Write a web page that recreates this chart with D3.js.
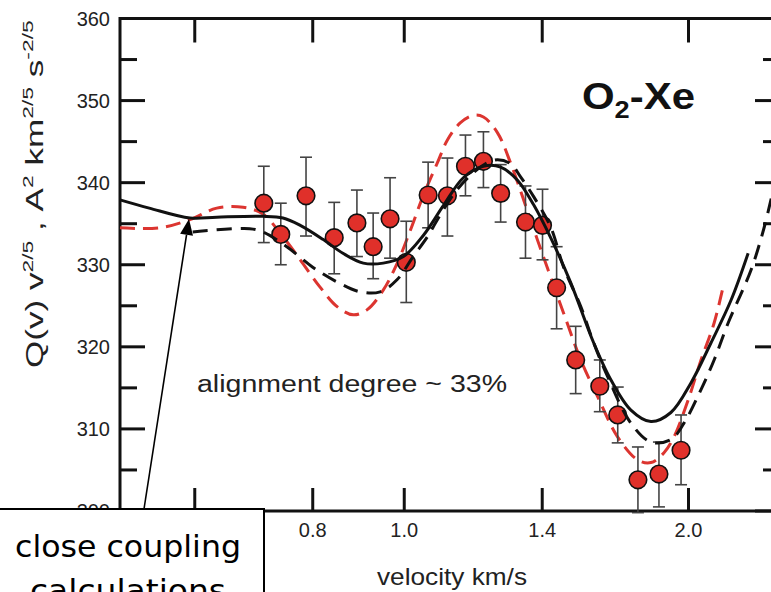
<!DOCTYPE html>
<html><head><meta charset="utf-8">
<script src="https://cdn.jsdelivr.net/npm/d3@7"></script>
<style>html,body{margin:0;padding:0;background:#fff;overflow:hidden}svg{display:block}</style>
</head><body>
<svg id="chart" width="771" height="592"></svg>
<script>
// ---------- data ----------
const velocity = [0.710,0.740,0.787,0.843,0.891,0.927,0.966,1.005,1.060,1.111,1.161,1.213,1.265,1.344,1.401,1.450,1.519,1.611,1.683,1.768,1.861,1.964];
const measured = [337.5,333.7,338.4,333.3,335.1,332.2,335.6,330.3,338.5,338.4,342.0,342.6,338.7,335.2,334.8,327.2,318.4,315.2,311.7,303.8,304.5,307.4];
const errUpper = [342.0,337.5,343.1,337.6,339.1,336.3,340.6,335.3,342.5,343.0,345.8,346.2,342.2,339.6,339.2,332.2,322.5,318.4,315.1,307.8,308.4,311.7];
const errLower = [332.7,330.0,333.5,328.9,331.0,328.3,330.8,325.4,334.5,333.5,338.4,339.4,335.2,330.8,330.6,322.2,314.3,312.1,308.3,299.8,300.5,303.2];

const solidV = [0.500,0.537,0.593,0.633,0.708,0.744,0.776,0.820,0.861,0.905,0.950,0.998,1.048,1.100,1.155,1.213,1.265,1.318,1.371,1.429,1.501,1.587,1.655,1.738,1.825,1.916,2.012,2.113,2.219,2.313];
const solidQ = [337.9,336.9,335.7,335.8,335.9,335.7,334.8,333.1,331.4,330.2,330.2,331.0,333.6,337.2,340.6,342.0,341.9,340.3,337.3,333.3,327.8,320.5,316.0,312.3,310.9,312.0,315.6,320.5,325.7,331.4];

const dashV = [0.597,0.686,0.708,0.751,0.800,0.849,0.898,0.943,0.983,1.022,1.058,1.092,1.133,1.175,1.219,1.255,1.296,1.328,1.371,1.429,1.475,1.538,1.587,1.643,1.738,1.825,1.916,1.978,2.062,2.129,2.203,2.330,2.406,2.453];
const dashQ = [334.0,334.4,334.0,332.2,329.7,327.9,326.7,326.7,328.2,331.0,333.4,336.1,338.9,340.9,342.3,342.8,342.3,340.7,338.3,334.6,329.7,324.9,320.5,316.3,310.7,308.4,308.7,310.7,314.8,318.4,322.9,329.4,334.6,338.6];

const redV = [0.500,0.551,0.593,0.633,0.675,0.708,0.744,0.776,0.814,0.849,0.883,0.913,0.950,0.983,1.015,1.048,1.084,1.111,1.147,1.184,1.213,1.255,1.296,1.338,1.384,1.429,1.475,1.538,1.603,1.683,1.768,1.825,1.884,1.930,1.998,2.062,2.129,2.181];
const redQ = [334.5,334.5,335.5,336.9,337.0,336.2,333.4,330.6,327.3,324.9,323.9,324.5,326.9,330.2,334.2,338.5,342.4,345.2,347.3,348.2,348.0,346.1,342.4,337.9,333.0,328.5,324.1,318.4,313.9,309.0,306.2,305.9,307.1,309.0,313.5,318.4,322.9,327.8];

const xTicks = [0.6, 0.8, 1.0, 1.4, 2.0];
const xLabelValues = [0.8, 1.0, 1.4, 2.0];   // 0.6 label is hidden under the callout box
const xTickLabels = ["0.8", "1.0", "1.4", "2.0"];
const yTicks = [300, 310, 320, 330, 340, 350, 360];
const yMinorTicks = [305, 315, 325, 335, 345, 355];

// ---------- layout ----------
const svg = d3.select("#chart");
const L = 120, R = 780, T = 18.5, B = 511;
const x = d3.scaleLog().domain([0.5, 2.5]).range([L, R]);
const y = d3.scaleLinear().domain([300, 360]).range([B, T]);
const font = "'Liberation Sans', Arial, Helvetica, sans-serif";

// frame ticks
const ax = svg.append("g").attr("stroke", "#111").attr("stroke-width", 3).attr("stroke-linecap", "butt");
yTicks.forEach(v => {
  ax.append("line").attr("x1", L).attr("x2", L + 25).attr("y1", y(v)).attr("y2", y(v));
  ax.append("line").attr("x1", R).attr("x2", R - 25).attr("y1", y(v)).attr("y2", y(v));
});
yMinorTicks.forEach(v => {
  ax.append("line").attr("x1", L).attr("x2", L + 17).attr("y1", y(v)).attr("y2", y(v));
  ax.append("line").attr("x1", R).attr("x2", R - 17).attr("y1", y(v)).attr("y2", y(v));
});
xTicks.forEach(v => {
  ax.append("line").attr("x1", x(v)).attr("x2", x(v)).attr("y1", T).attr("y2", T + 24);
  ax.append("line").attr("x1", x(v)).attr("x2", x(v)).attr("y1", B).attr("y2", B - 23);
});
ax.append("rect").attr("x", L).attr("y", T).attr("width", R - L).attr("height", B - T).attr("fill", "none");

// tick labels
svg.append("g").selectAll("text").data(yTicks).join("text")
  .attr("x", 110).attr("y", d => y(d)).attr("dy", "0.36em")
  .attr("text-anchor", "end").attr("font-family", font).attr("font-size", 20).attr("fill", "#222")
  .text(d => d);
svg.append("g").selectAll("text").data(xLabelValues).join("text")
  .attr("x", d => x(d)).attr("y", 537)
  .attr("text-anchor", "middle").attr("font-family", font).attr("font-size", 20).attr("fill", "#222")
  .text((d, i) => xTickLabels[i]);

// axis titles
svg.append("text").attr("x", 452).attr("y", 585).attr("text-anchor", "middle")
  .attr("font-family", font).attr("font-size", 24).attr("fill", "#222")
  .attr("textLength", 150).attr("lengthAdjust", "spacingAndGlyphs")
  .text("velocity km/s");

const yt = svg.append("g").attr("transform", "translate(43,368) rotate(-90)");
const ytText = yt.append("text").attr("font-family", font).attr("font-size", 23).attr("fill", "#222");
const parts = [["Q(v) v", 0, 23], ["2/5", -10, 15], [" , ", 10, 23], ["A", 0, 23], ["2", -10, 15], [" km", 10, 23], ["2/5", -10, 15], [" s", 10, 23], ["-2/5", -10, 15]];
parts.forEach(p => ytText.append("tspan").attr("dy", p[1]).attr("font-size", p[2]).text(p[0]));
const ytLen = ytText.node().getComputedTextLength();
ytText.attr("transform", `scale(${346 / ytLen},1)`);

// annotation text
svg.append("text").attr("x", 197).attr("y", 392).attr("font-family", font).attr("font-size", 23).attr("fill", "#222")
  .attr("textLength", 310).attr("lengthAdjust", "spacingAndGlyphs")
  .text("alignment degree ~ 33%");

const ot = svg.append("text").attr("font-family", font).attr("font-weight", "bold").attr("font-size", 37).attr("fill", "#111");
ot.append("tspan").text("O");
ot.append("tspan").attr("font-size", 24).attr("dy", 9).text("2");
ot.append("tspan").attr("dy", -9).text("-Xe");
const otLen = ot.node().getComputedTextLength();
ot.attr("transform", `translate(582,109) scale(${113 / otLen},1)`);

// ---------- marks ----------
const line = d3.line().x(d => x(d[0])).y(d => y(d[1])).curve(d3.curveCatmullRom.alpha(0.5));

// red dashed
svg.append("path").datum(redV.map((v, i) => [v, redQ[i]])).attr("d", line)
  .attr("fill", "none").attr("stroke", "#dc3530").attr("stroke-width", 3).attr("stroke-dasharray", "15,8");

// error bars
const eb = svg.append("g").attr("stroke", "#444").attr("stroke-width", 1.6);
velocity.forEach((v, i) => {
  const cx = x(v);
  eb.append("line").attr("x1", cx).attr("x2", cx).attr("y1", y(errUpper[i])).attr("y2", y(errLower[i]));
  eb.append("line").attr("x1", cx - 6).attr("x2", cx + 6).attr("y1", y(errUpper[i])).attr("y2", y(errUpper[i]));
  eb.append("line").attr("x1", cx - 6).attr("x2", cx + 6).attr("y1", y(errLower[i])).attr("y2", y(errLower[i]));
});
svg.append("g").selectAll("circle").data(velocity).join("circle")
  .attr("cx", d => x(d)).attr("cy", (d, i) => y(measured[i])).attr("r", 8.8)
  .attr("fill", "#e0302a").attr("stroke", "#111").attr("stroke-width", 1.6);

// black dashed
svg.append("path").datum(dashV.map((v, i) => [v, dashQ[i]])).attr("d", line)
  .attr("fill", "none").attr("stroke", "#111").attr("stroke-width", 3).attr("stroke-dasharray", "15,9");
// solid
svg.append("path").datum(solidV.map((v, i) => [v, solidQ[i]])).attr("d", line)
  .attr("fill", "none").attr("stroke", "#111").attr("stroke-width", 3);

// callout box
svg.append("rect").attr("x", -3).attr("y", 509).attr("width", 267).attr("height", 100)
  .attr("fill", "#fff").attr("stroke", "#000").attr("stroke-width", 2);
svg.append("text").attr("x", 15).attr("y", 557).attr("font-family", "'DejaVu Sans', sans-serif").attr("font-size", 31).attr("fill", "#000")
  .attr("textLength", 226).attr("lengthAdjust", "spacingAndGlyphs").text("close coupling");
svg.append("text").attr("x", 30).attr("y", 601).attr("font-family", "'DejaVu Sans', sans-serif").attr("font-size", 31).attr("fill", "#000")
  .attr("textLength", 196).attr("lengthAdjust", "spacingAndGlyphs").text("calculations");

// arrow
const ax0 = 144, ay0 = 509, ax1 = 189, ay1 = 219;
const ang = Math.atan2(ay1 - ay0, ax1 - ax0);
const hl = 16, hw = 6.5;
const bx = ax1 - hl * Math.cos(ang), by = ay1 - hl * Math.sin(ang);
svg.append("line").attr("x1", ax0).attr("y1", ay0).attr("x2", bx).attr("y2", by).attr("stroke", "#000").attr("stroke-width", 1.6);
svg.append("polygon").attr("points", [
  [ax1, ay1],
  [bx + hw * Math.sin(ang), by - hw * Math.cos(ang)],
  [bx - hw * Math.sin(ang), by + hw * Math.cos(ang)]
].map(p => p.join(",")).join(" ")).attr("fill", "#000");
</script>
</body></html>
